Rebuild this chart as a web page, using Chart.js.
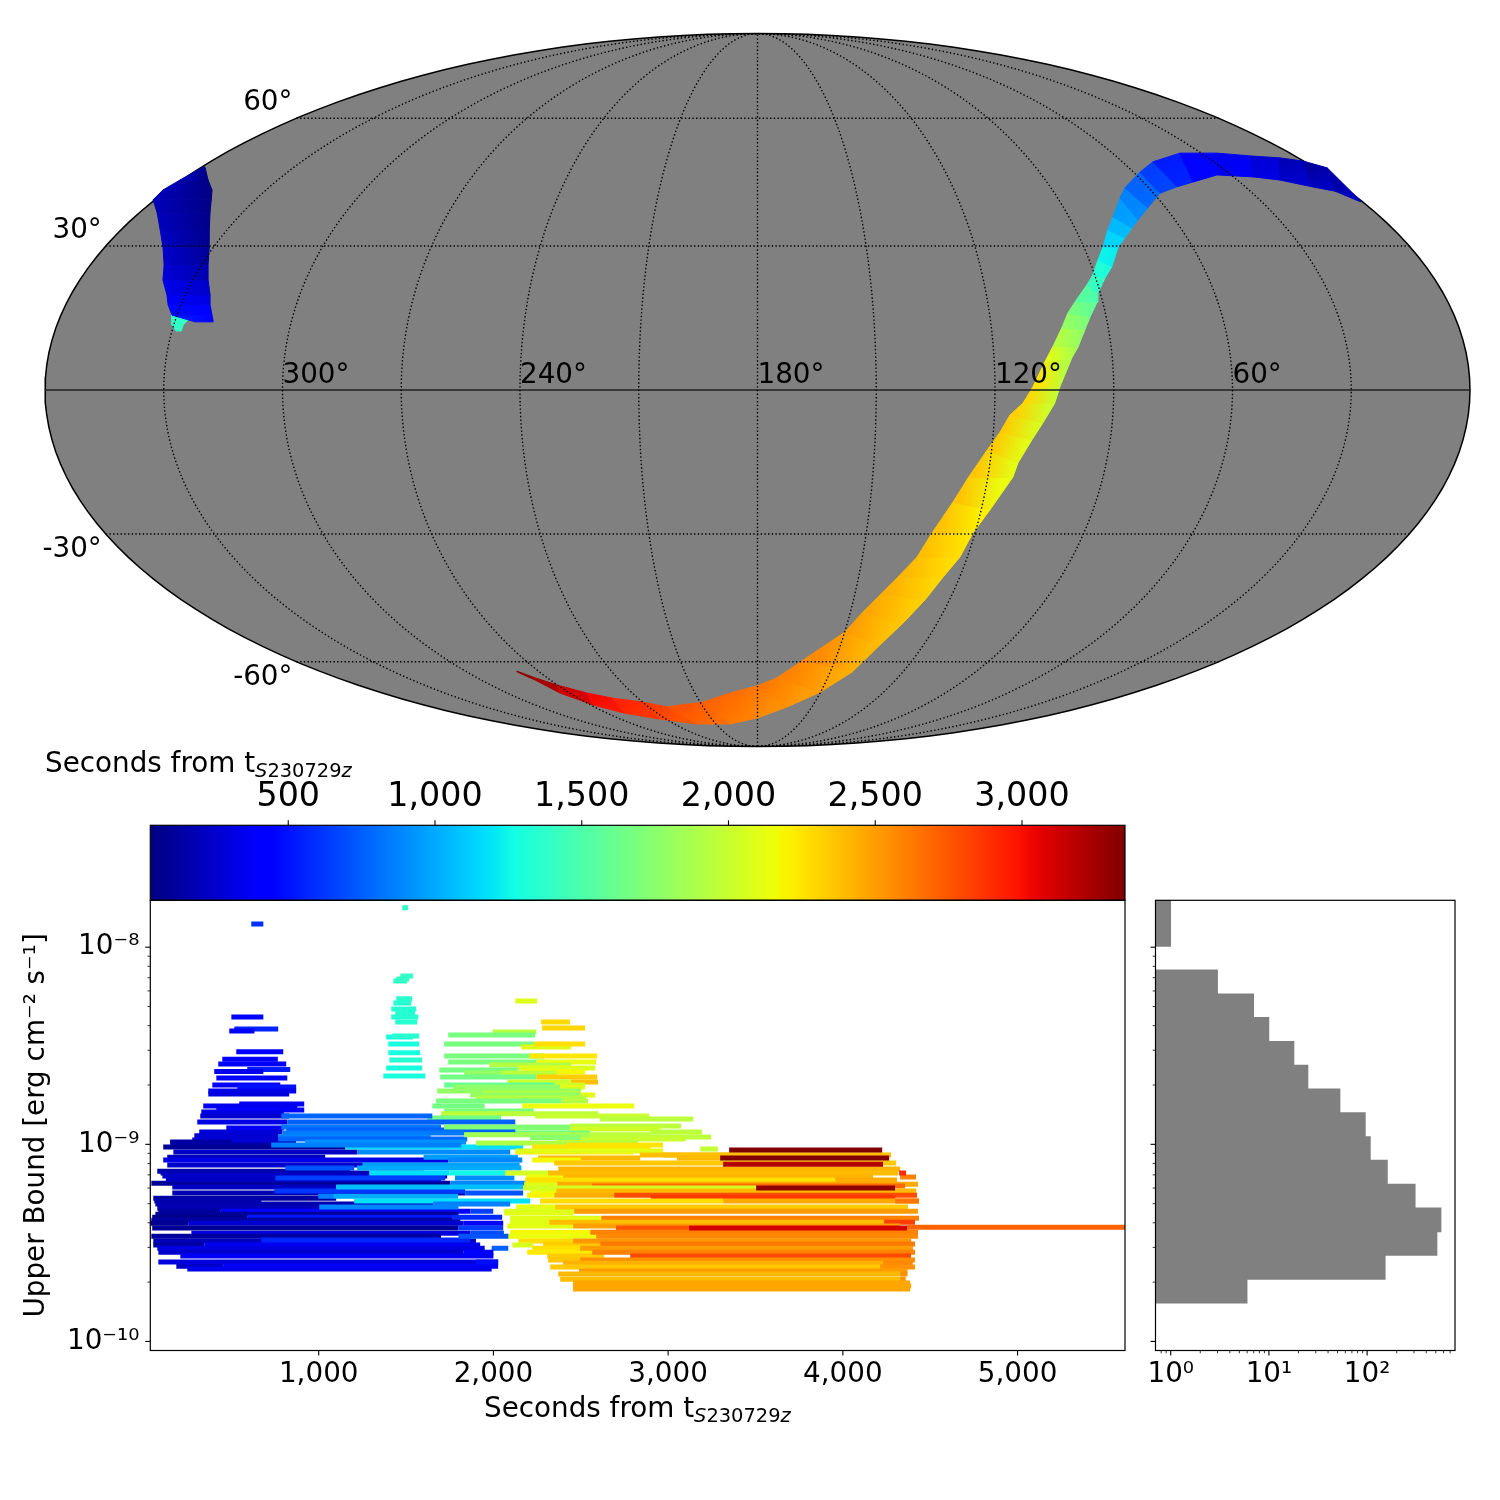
<!DOCTYPE html>
<html>
<head>
<meta charset="utf-8">
<title>S230729z</title>
<script src="https://cdn.jsdelivr.net/npm/chart.js@4"></script>
<style>
    html, body { margin: 0; background: #fff; }
    canvas { position: absolute; left: 0; top: 0; }
</style>
</head>
<body>
<canvas id="map" width="1500" height="1500"></canvas>
<canvas id="colorbar" width="1500" height="1500"></canvas>
<canvas id="bounds" width="1500" height="1500"></canvas>
<canvas id="hist" width="1500" height="1500"></canvas>
<script>
// time range of the colour bar, seconds
let t_min = 30;
let t_max = 3351;
let colorbar_ticks = [500, 1000, 1500, 2000, 2500, 3000];
let seconds_ticks = [1000, 2000, 3000, 4000, 5000];
let ub_decades = [1e-10, 1e-9, 1e-8];
let ub_decade_labels = ['10⁻¹⁰', '10⁻⁹', '10⁻⁸'];
let count_decades = [1, 10, 100];
let count_decade_labels = ['10⁰', '10¹', '10²'];
let lon_labels = [300, 240, 180, 120, 60];
let lat_labels = [60, 30, -30, -60];

// sky band, in the Mollweide plane (degrees), two edges per station
let band_a_x = [152.4,143.9,137.8,132.0,124.4,116.1,106.7,99.9,96.6,92.8,91.6,89.8,88.5,87.3,86.0,84.7,83.2,80.2,78.4,76.9,74.6,72.6,69.6,67.1,63.8,61.3,58.0,53.2,49.4,44.1,40.3,35.5,31.4,26.4,22.1,11.5,4.9,-0.1,-6.9,-13.8,-22.9,-28.9,-36.5,-43.1,-50.6,-56.7,-60.7];
let band_a_y = [47.7,56.1,57.8,58.6,59.1,59.8,59.8,57.6,55.0,51.0,48.5,43.7,40.4,36.1,32.8,29.0,26.5,22.2,19.4,15.7,10.9,7.1,0.8,-3.3,-6.3,-10.6,-15.2,-22.2,-28.3,-36.1,-42.2,-47.2,-51.3,-56.3,-61.1,-68.2,-72.7,-74.7,-76.5,-78.8,-80.0,-78.8,-77.8,-76.5,-74.5,-72.5,-71.0];
let band_b_x = [152.4,145.9,140.1,132.0,125.2,116.1,110.0,106.0,101.7,98.6,96.1,94.6,92.8,91.1,89.5,87.8,86.0,85.8,84.0,82.7,81.0,79.4,76.4,75.1,72.1,69.3,65.8,64.5,58.7,54.4,51.1,46.9,42.3,36.8,30.9,23.9,15.8,7.5,-0.1,-6.9,-15.3,-24.6,-33.5,-41.5,-49.9,-56.2,-60.7];
let band_b_y = [47.5,50.2,51.3,53.0,53.8,54.3,52.5,51.3,49.7,46.0,42.9,40.9,38.4,36.1,31.1,28.3,24.5,22.2,18.4,15.2,10.9,8.1,0.8,-3.3,-8.3,-12.6,-18.4,-22.0,-30.3,-36.1,-42.2,-47.2,-53.0,-58.8,-64.4,-71.2,-76.3,-80.0,-82.8,-84.3,-84.3,-83.1,-81.6,-79.5,-76.5,-73.2,-71.2];
let band_a_t = [200,110,130,240,310,400,470,590,700,830,900,1000,1090,1190,1290,1380,1480,1620,1740,1850,2000,2200,2290,2300,2340,2350,2355,2360,2370,2380,2390,2420,2450,2480,2530,2590,2610,2640,2680,2720,2800,2880,2980,3060,3190,3290,3340];
let band_b_t = [200,230,230,290,340,420,500,620,720,850,930,1020,1100,1180,1260,1340,1440,1540,1650,1740,1830,1900,1950,2000,2040,2080,2110,2100,2170,2230,2260,2280,2310,2340,2380,2420,2480,2520,2570,2640,2700,2820,2920,3030,3170,3290,3340];

// patch near the upper left rim
let patch_a_x = [-140.1,-145.9,-150.2,-152.7,-151.7,-150.9,-150.2,-149.9,-150.2,-149.2,-148.9,-147.9,-142.1];
let patch_a_y = [56.3,53.0,50.5,48.0,44.9,40.4,36.1,31.6,27.8,24.0,21.5,18.9,17.2];
let patch_b_x = [-139.6,-138.8,-137.8,-138.0,-138.3,-138.5,-138.5,-138.8,-138.8,-138.3,-138.3,-137.8,-137.5];
let patch_b_y = [56.3,53.0,50.5,48.0,44.9,40.4,36.1,31.6,27.8,24.0,21.5,18.9,17.2];
let patch_a_t = [170,175,180,190,200,215,230,260,300,360,400,540,500];
let patch_b_t = [40,40,40,50,55,65,80,130,200,290,340,450,450];

let spot_a_x = [-147.9,-147.9,-147.9,-146.9];
let spot_a_y = [19.7,18.2,16.4,14.9];
let spot_b_x = [-147.1,-143.4,-145.1,-145.6];
let spot_b_y = [19.7,18.2,16.4,14.9];
let spot_a_t = [1390,1390,1390,1390];
let spot_b_t = [1390,1390,1390,1390];

// upper bound rows: log10(bound), first second, last second, time that sets the colour
let base_log = [-8.992,-9.014,-9.039,-9.065,-9.080,-9.105,-9.136,-9.145,-9.161,-9.197,
    -9.180,-9.217,-9.247,-9.273,-9.288,-9.303,-9.324,-9.339,-9.339,-9.355,
    -9.370,-9.370,-9.385,-9.400,-9.400,-9.425,-9.451,-9.466,-9.491,-9.511,
    -9.511,-9.527,-9.547,-9.567,-9.597,-9.618,-9.618,-9.633,-9.120,-9.171,
    -9.237,-9.486];
let base_start = [150,110,168,133,110,133,76,95,105,42,
    125,162,162,53,59,65,76,82,437,65,
    47,591,42,36,253,47,271,42,53,53,
    345,76,82,208,82,185,453,248,808,752,
    746,671];
let base_end = [870,1152,1220,1037,1741,1741,1180,1600,1735,1753,
    1700,1100,1838,1100,671,1655,1760,437,1867,1800,
    591,1764,1810,253,1827,1798,1867,1700,1900,345,
    1924,1950,1827,2000,2027,453,2027,1990,1203,1724,
    1838,1867];
let base_time = [150,90,230,200,330,250,150,180,240,90,
    220,220,170,130,170,170,180,130,430,100,
    70,520,130,90,260,90,300,120,200,130,
    360,310,250,370,300,240,395,340,720,650,
    620,560];

let cyan_log = [-9.014,-9.039,-9.065,-9.080,-9.105,-9.120,-9.146,-9.146,-9.171,-9.197,
    -9.217,-9.247,-9.263,-9.263,-9.288,-9.303,-9.339,-9.370,-9.400,-9.425,
    -9.451,-9.466,-9.527,-9.547,-9.597,-9.318];
let cyan_start = [1152,1220,1600,1741,1250,1220,1289,1747,1780,1753,
    1100,1838,997,1083,1203,1655,1867,1764,1827,1798,
    1867,1800,1990,1827,1900,1003];
let cyan_end = [2170,2096,2140,2165,2150,2160,1747,2079,2120,2182,
    2170,2170,1083,1798,2210,2096,1999,2050,2056,2056,
    2060,2090,2085,2000,2027,1800];
let cyan_time = [1172,900,960,880,960,1000,1170,1260,900,880,
    1068,720,860,1000,1180,860,650,580,430,640,
    700,720,760,400,480,880];

let peak_log = [-7.882,-8.354,-8.415,-8.425,-8.530,-8.569,-8.593,-8.620,-8.630,-8.664,
    -8.699,-8.709,-8.729,-8.745,-8.795,-8.806,-8.826,-8.836,-8.856,-8.887,
    -8.917,-8.937,-8.957,-8.978,-8.988];
let peak_start = [614,500,517,488,528,448,425,591,402,414,
    391,534,368,368,545,339,414,328,322,305,
    471,316,288,276,150];
let peak_end = [683,683,768,632,797,766,814,837,683,820,
    780,871,871,831,917,877,917,800,831,820,
    800,790,770,800,500];
let peak_time = [600,450,560,420,420,420,380,540,350,410,
    380,500,350,300,370,340,395,330,260,320,
    380,290,260,270,130];

let teal_log = [-7.800,-8.146,-8.161,-8.171,-8.262,-8.283,-8.313,-8.334,-8.354,-8.379,
    -8.455,-8.450,-8.491,-8.536,-8.572,-8.613,-8.653];
let teal_start = [1478,1467,1444,1427,1444,1427,1415,1438,1415,1438,
    1386,1421,1398,1398,1404,1386,1370];
let teal_end = [1512,1540,1518,1506,1535,1530,1558,1552,1570,1564,
    1540,1575,1575,1581,1592,1592,1610];
let teal_time = [1390,1390,1390,1390,1360,1340,1340,1340,1340,1340,
    1290,1340,1290,1290,1340,1290,1290];

let green_log = [-8.273,-8.379,-8.410,-8.430,-8.445,-8.491,-8.506,-8.491,-8.552,-8.582,
    -8.552,-8.582,-8.597,-8.613,-8.623,-8.633,-8.638,-8.638,-8.658,-8.658,
    -8.684,-8.684,-8.699,-8.699,-8.709,-8.709,-8.729,-8.739,-8.750,-8.750,
    -8.765,-8.780,-8.780,-8.806,-8.806,-8.831,-8.845,-8.856,-8.872,-8.866,
    -8.907,-8.917,-8.922,-8.937,-8.942,-8.952,-8.963,-8.973,-8.993,-9.003,
    -9.024];
let green_start = [2125,2273,2279,1995,1741,1718,2159,2233,1718,1741,
    2205,2245,1976,2142,1690,2182,1833,2044,1695,2245,
    2079,2445,1718,2348,1770,2382,1678,1936,1867,2500,
    1900,1672,2388,1650,2165,1718,1700,2239,2611,1620,
    2439,1718,2439,2897,1833,2554,2870,2365,1900,2422,
    3183];
let green_end = [2250,2439,2525,2245,2239,2233,2445,2525,2290,2296,
    2594,2588,2445,2582,2142,2525,2044,2365,2245,2594,
    2445,2599,2348,2525,2382,2525,2500,2500,2500,2582,
    2531,2388,2542,1950,2806,2230,2600,2891,3143,2044,
    3074,2439,2954,3194,2554,2897,3246,3100,2828,2971,
    3286];
let green_time = [2090,2290,2300,1930,1680,1680,2100,2270,1680,1680,
    2240,2130,1920,2080,1660,2180,1790,1950,1650,2330,
    2000,2380,1600,2030,1760,2090,1780,1900,1790,2120,
    1920,1680,1920,1660,2150,1680,1950,2000,1950,1650,
    1950,1720,2030,1950,1680,1950,1950,2000,1900,2250,
    1980];

let band_log = [-8.856,-8.887,-8.912,-8.927,-8.942,-8.963,-8.973,-8.988,-9.003,-8.912,-8.952,-8.966];
let band_start = [786,820,786,814,791,768,768,923,728,1718,1833,2210];
let band_end = [1650,2125,1700,2125,1833,1640,1850,1844,1816,2439,2554,2500];
let band_time = [770,760,830,760,840,880,770,920,860,1720,1850,1750];

let edge_log = [-9.014,-9.039,-9.070,-9.080,-9.146,-9.166,-9.202,-9.237,-9.258,-9.318,
    -9.339,-9.349,-9.395,-9.415,-9.446,-9.466,-9.491,-9.506,-9.511,-9.527,
    -9.547,-9.567,-9.587,-9.034];
let edge_start = [2222,2125,2256,2222,2067,2188,2176,2210,2193,2130,
    2062,2062,2096,2079,2096,2085,2142,2285,2108,2222,
    2193,2308,2313,2125];
let edge_end = [2900,2800,2840,2500,2325,2399,2365,2365,2348,2353,
    2462,2460,2319,2456,2554,2588,2456,2611,2228,2496,
    2565,2634,2496,2971];
let edge_time = [2250,2230,2400,2180,2040,2150,2100,2150,2190,2120,
    2060,2100,2090,2110,2180,2140,2270,2330,2060,2260,
    2230,2340,2360,2100];

let late_log = [-9.054,-9.095,-9.125,-9.146,-9.166,-9.166,-9.181,-9.181,-9.202,-9.212,
    -9.222,-9.237,-9.258,-9.258,-9.268,-9.288,-9.288,-9.288,-9.318,-9.339,
    -9.375,-9.375,-9.395,-9.395,-9.415,-9.425,-9.421,-9.446,-9.466,-9.491,
    -9.506,-9.527,-9.547,-9.567,-9.587,-9.603,-9.603,-9.623,-9.623,-9.643,
    -9.658,-9.658,-9.684,-9.684,-9.704,-9.719,-9.734,-9.054,-9.070,-9.146];
let late_start = [2971,2348,2371,2313,2399,4328,2182,3956,2365,2565,
    2170,2360,2348,2691,2900,2267,3315,4300,2353,2462,
    2096,2617,2319,4236,2456,2702,4368,2554,2588,2456,
    2611,2496,2565,2783,2496,2399,4230,2325,4213,2490,
    2371,4328,2382,4328,2456,2456,2456,2838,3050,4322];
let late_end = [4276,4305,4328,4316,4173,4419,3956,4310,4430,4356,
    3504,4420,2691,4425,4300,3315,4436,4436,4373,4430,
    2617,4436,4236,4413,4328,3120,5700,4430,4430,4391,
    4413,4402,4413,4390,4413,4230,4400,4213,4413,4370,
    4328,4370,4328,4360,4385,4391,4385,4230,4265,4362];
let late_time = [2370,2350,2420,2390,2420,2600,2260,2450,2450,2680,
    2050,2400,2440,2780,2850,2270,2460,2640,2340,2510,
    2100,2600,2380,2830,2490,2760,2700,2600,2570,2520,
    2630,2500,2600,2800,2550,2430,2570,2350,2540,2500,
    2400,2550,2390,2530,2470,2470,2470,2380,2400,2900];

let red_log = [-9.029,-9.070,-9.222,-9.425,-9.101];
let red_start = [3349,3298,3504,3120,3315];
let red_end = [4225,4265,4299,4368,4230];
let red_time = [3351,3340,3300,3110,3200];

let bar_groups = [
    [base_log, base_start, base_end, base_time],
    [cyan_log, cyan_start, cyan_end, cyan_time],
    [peak_log, peak_start, peak_end, peak_time],
    [teal_log, teal_start, teal_end, teal_time],
    [green_log, green_start, green_end, green_time],
    [band_log, band_start, band_end, band_time],
    [edge_log, edge_start, edge_end, edge_time],
    [late_log, late_start, late_end, late_time],
    [red_log, red_start, red_end, red_time],
];

// histogram of the bounds, log10 of the bin centres and counts per bin
let hist_log = [-9.745,-9.624,-9.503,-9.383,-9.262,-9.141,-9.021,-8.900,-8.779,-8.659,-8.538,-8.417,-8.297,-8.176,-7.935,-7.814];
let hist_counts = [6,153,515,566,309,161,108,96,53,25,18,10,7,3,1,1];

// matplotlib jet
let jet_red = [[0,0],[.35,0],[.66,1],[.89,1],[1,.5]];
let jet_green = [[0,0],[.125,0],[.375,1],[.64,1],[.91,0],[1,0]];
let jet_blue = [[0,.5],[.11,1],[.34,1],[.65,0],[1,0]];

function interp(stops, n) {
    for (let i = 1; i < stops.length; i++) {
        if (n <= stops[i][0]) {
            let f = (n - stops[i-1][0]) / (stops[i][0] - stops[i-1][0]);
            return stops[i-1][1] + f * (stops[i][1] - stops[i-1][1]);
        }
    }
    return stops[stops.length-1][1];
}

function jet_color(t) {
    let n = Math.min(1, Math.max(0, (t - t_min) / (t_max - t_min)));
    let c = [jet_red, jet_green, jet_blue].map(s => Math.round(255 * interp(s, n)));
    return `rgb(${c[0]},${c[1]},${c[2]})`;
}

// Mollweide: auxiliary angle for a latitude, then plane coordinates in degrees
function moll_theta(lat) {
    let phi = lat * Math.PI / 180;
    let th = phi;
    for (let i = 0; i < 60; i++) {
        th -= (2 * th + Math.sin(2 * th) - Math.PI * Math.sin(phi)) / (2 + 2 * Math.cos(2 * th));
    }
    return th;
}

function moll_point(lon, lat) {
    let th = Math.abs(lat) >= 90 ? Math.sign(lat) * Math.PI / 2 : moll_theta(lat);
    return { x: (180 - lon) * Math.cos(th), y: 90 * Math.sin(th) };
}

function range(a, b, step) {
    let out = [];
    for (let v = a; v <= b + 1e-9; v += step) out.push(v);
    return out;
}

function quad_dataset(ax, ay, bx, by, ta, tb, i) {
    let m = i + 1;
    return {
        data: [
            {x: ax[i], y: ay[i]}, {x: ax[m], y: ay[m]},
            {x: bx[m], y: by[m]}, {x: bx[i], y: by[i]}, {x: ax[i], y: ay[i]},
        ],
        fill: 'shape',
        pointRadius: 0,
        borderWidth: 1,
        order: 2,
        borderColor: ctx => quad_gradient(ctx, ax, ay, bx, by, ta, tb, i),
        backgroundColor: ctx => quad_gradient(ctx, ax, ay, bx, by, ta, tb, i),
    };
}

function quad_gradient(ctx, ax, ay, bx, by, ta, tb, i) {
    let m = i + 1;
    if (!ctx.chart.chartArea) return jet_color(ta[i]);
    let xs = ctx.chart.scales.x;
    let ys = ctx.chart.scales.y;
    let g = ctx.chart.ctx.createLinearGradient(
        xs.getPixelForValue((ax[i] + ax[m]) / 2), ys.getPixelForValue((ay[i] + ay[m]) / 2),
        xs.getPixelForValue((bx[i] + bx[m]) / 2), ys.getPixelForValue((by[i] + by[m]) / 2));
    g.addColorStop(0, jet_color((ta[i] + ta[m]) / 2));
    g.addColorStop(1, jet_color((tb[i] + tb[m]) / 2));
    return g;
}

function seconds_title(ctx, x, y, size) {
    ctx.save();
    ctx.fillStyle = '#000';
    ctx.textAlign = 'left';
    ctx.textBaseline = 'alphabetic';
    ctx.font = `${size}px "DejaVu Sans"`;
    ctx.fillText('Seconds from t', x, y);
    x += ctx.measureText('Seconds from t').width;
    let sub = size * 0.7;
    let parts = [['S', 'italic '], ['230729', ''], ['z', 'italic ']];
    for (let p of parts) {
        ctx.font = `${p[1]}${sub}px "DejaVu Sans"`;
        ctx.fillText(p[0], x, y + 5);
        x += ctx.measureText(p[0]).width;
    }
    ctx.restore();
}

// spines and tick marks, majors longer than minors like the original axes
let frame_plugin = {
    id: 'frame',
    afterDraw(chart) {
        let ctx = chart.ctx;
        let a = chart.chartArea;
        ctx.save();
        ctx.strokeStyle = '#000';
        ctx.lineWidth = 1.2;
        ctx.strokeRect(a.left, a.top, a.right - a.left, a.bottom - a.top);
        for (let id of ['x', 'y']) {
            let s = chart.scales[id];
            if (!s.options.display) continue;
            for (let tick of s.ticks) {
                let p = s.getPixelForValue(tick.value);
                let lg = Math.log10(tick.value);
                let major = s.type !== 'logarithmic' || Math.abs(lg - Math.round(lg)) < 1e-6;
                let len = major ? 5 : 2.8;
                ctx.lineWidth = major ? 1.1 : 0.8;
                ctx.beginPath();
                if (s.position === 'left') { ctx.moveTo(a.left, p); ctx.lineTo(a.left - len, p); }
                if (s.position === 'bottom') { ctx.moveTo(p, a.bottom); ctx.lineTo(p, a.bottom + len); }
                if (s.position === 'top') { ctx.moveTo(p, a.top); ctx.lineTo(p, a.top - len); }
                ctx.stroke();
            }
        }
        ctx.restore();
    },
};

let map_labels_plugin = {
    id: 'map_labels',
    afterDraw(chart) {
        let ctx = chart.ctx;
        let xs = chart.scales.x;
        let ys = chart.scales.y;
        ctx.save();
        ctx.fillStyle = '#000';
        ctx.font = '27.8px "DejaVu Sans"';
        ctx.textBaseline = 'alphabetic';
        ctx.textAlign = 'left';
        for (let lon of lon_labels) {
            let p = moll_point(lon, 0);
            ctx.fillText(lon + '°', xs.getPixelForValue(p.x), ys.getPixelForValue(p.y) - 7);
        }
        ctx.textAlign = 'right';
        for (let lat of lat_labels) {
            let p = moll_point(360, lat);
            let dy = lat > 0 ? -8 : 23;
            ctx.fillText(lat + '°', xs.getPixelForValue(p.x) - 4, ys.getPixelForValue(p.y) + dy);
        }
        ctx.restore();
        seconds_title(ctx, 45, 772, 27.8);
    },
};

// map
let map_sets = [];
let rim = range(0, 360, 2).map(a => ({
    x: 180 * Math.cos(a * Math.PI / 180), y: 90 * Math.sin(a * Math.PI / 180),
}));
map_sets.push({
    data: rim, fill: 'shape', backgroundColor: '#808080', borderColor: '#000',
    borderWidth: 1.5, pointRadius: 0, order: 3, clip: false,
});
for (let i = 0; i < band_a_x.length - 1; i++) {
    map_sets.push(quad_dataset(band_a_x, band_a_y, band_b_x, band_b_y, band_a_t, band_b_t, i));
}
for (let i = 0; i < patch_a_x.length - 1; i++) {
    map_sets.push(quad_dataset(patch_a_x, patch_a_y, patch_b_x, patch_b_y, patch_a_t, patch_b_t, i));
}
for (let i = 0; i < spot_a_x.length - 1; i++) {
    map_sets.push(quad_dataset(spot_a_x, spot_a_y, spot_b_x, spot_b_y, spot_a_t, spot_b_t, i));
}
for (let lon of range(30, 330, 30)) {
    map_sets.push({
        data: range(-90, 90, 1).map(lat => moll_point(lon, lat)),
        borderColor: '#000', borderWidth: 1.4, borderDash: [1.4, 2.3], pointRadius: 0, fill: false, order: 1,
    });
}
for (let lat of [-60, -30, 30, 60]) {
    map_sets.push({
        data: [moll_point(360, lat), moll_point(0, lat)],
        borderColor: '#000', borderWidth: 1.4, borderDash: [1.4, 2.3], pointRadius: 0, fill: false, order: 1,
    });
}
map_sets.push({
    data: [moll_point(360, 0), moll_point(0, 0)],
    borderColor: '#222', borderWidth: 1.4, pointRadius: 0, fill: false, order: 1,
});

let base_options = {
    responsive: false,
    animation: false,
    events: [],
    devicePixelRatio: 1,
    plugins: { legend: { display: false }, tooltip: { enabled: false } },
};

new Chart(document.getElementById('map'), {
    type: 'line',
    data: { datasets: map_sets },
    options: {
        ...base_options,
        layout: { padding: { left: 45, right: 30, top: 33.5, bottom: 753.5 } },
        scales: {
            x: { type: 'linear', min: -180, max: 180, display: false },
            y: { type: 'linear', min: -90, max: 90, display: false },
        },
    },
    plugins: [map_labels_plugin],
});

// colour bar
new Chart(document.getElementById('colorbar'), {
    type: 'line',
    data: {
        datasets: [{
            data: [{x: t_min, y: 0}, {x: t_max, y: 0}, {x: t_max, y: 1}, {x: t_min, y: 1}, {x: t_min, y: 0}],
            fill: 'shape',
            pointRadius: 0,
            borderWidth: 0,
            backgroundColor: ctx => {
                if (!ctx.chart.chartArea) return jet_color(t_min);
                let xs = ctx.chart.scales.x;
                let g = ctx.chart.ctx.createLinearGradient(xs.getPixelForValue(t_min), 0, xs.getPixelForValue(t_max), 0);
                for (let i = 0; i <= 128; i++) {
                    g.addColorStop(i / 128, jet_color(t_min + (t_max - t_min) * i / 128));
                }
                return g;
            },
        }],
    },
    options: {
        ...base_options,
        layout: { padding: { left: 150.3, right: 375, top: 0, bottom: 599.7 } },
        scales: {
            x: {
                type: 'linear', position: 'top', min: t_min, max: t_max,
                afterBuildTicks: s => { s.ticks = colorbar_ticks.map(v => ({value: v})); },
                afterFit: s => { s.height = 825.3; },
                grid: { display: false, drawTicks: false },
                border: { display: false },
                ticks: { color: '#000', font: { family: 'DejaVu Sans', size: 33.3 }, padding: 8, maxRotation: 0, autoSkip: false },
            },
            y: { type: 'linear', min: 0, max: 1, display: false },
        },
    },
    plugins: [frame_plugin],
});

// upper bound rows
let bar_sets = [];
for (let group of bar_groups) {
    let [logs, starts, ends, times] = group;
    logs.forEach((u, i) => {
        bar_sets.push({
            data: [{x: starts[i], y: Math.pow(10, u)}, {x: ends[i], y: Math.pow(10, u)}],
            borderColor: jet_color(times[i]),
            borderWidth: 5,
            borderCapStyle: 'butt',
            pointRadius: 0,
            fill: false,
            order: -bar_sets.length,
        });
    });
}

let ub_ticks = [];
for (let dec of [1e-10, 1e-9, 1e-8]) {
    ub_ticks.push(dec);
    for (let m = 2; m <= 9; m++) {
        if (m * dec < 1.73e-8) ub_ticks.push(m * dec);
    }
}

function ub_scale(show_labels) {
    return {
        type: 'logarithmic',
        min: Math.pow(10, -10.046),
        max: Math.pow(10, -7.762),
        afterBuildTicks: s => { s.ticks = ub_ticks.map(v => ({value: v})); },
        grid: { display: false, drawTicks: false },
        border: { display: false },
        ticks: {
            display: show_labels,
            color: '#000',
            font: { family: 'DejaVu Sans', size: 27.8 },
            padding: 11,
            autoSkip: false,
            maxRotation: 0,
            callback: v => {
                let i = ub_decades.indexOf(v);
                return i < 0 ? '' : ub_decade_labels[i];
            },
        },
    };
}

new Chart(document.getElementById('bounds'), {
    type: 'line',
    data: { datasets: bar_sets },
    options: {
        ...base_options,
        layout: { padding: { left: 0, right: 375, top: 900.3, bottom: 0 } },
        scales: {
            x: {
                type: 'linear', min: 36, max: 5615,
                afterBuildTicks: s => { s.ticks = seconds_ticks.map(v => ({value: v})); },
                afterFit: s => { s.height = 149.5; },
                grid: { display: false, drawTicks: false },
                border: { display: false },
                ticks: { color: '#000', font: { family: 'DejaVu Sans', size: 27.8 }, padding: 8, maxRotation: 0, autoSkip: false },
            },
            y: {
                ...ub_scale(true),
                afterFit: s => { s.width = 150.3; },
                title: {
                    display: true,
                    text: 'Upper Bound [erg cm⁻² s⁻¹]',
                    color: '#000',
                    font: { family: 'DejaVu Sans', size: 27.8 },
                    padding: { top: 20, bottom: 0 },
                },
            },
        },
    },
    plugins: [frame_plugin, {
        id: 'x_title',
        afterDraw(chart) { seconds_title(chart.ctx, 484, 1417, 27.8); },
    }],
});

// histogram
let count_ticks = [0.8, 0.9];
for (let dec of [1, 10, 100]) {
    count_ticks.push(dec);
    for (let m = 2; m <= 9; m++) {
        if (m * dec < 785) count_ticks.push(m * dec);
    }
}

new Chart(document.getElementById('hist'), {
    type: 'bar',
    data: {
        datasets: [{
            data: hist_log.map((u, i) => ({x: hist_counts[i], y: Math.pow(10, u)})),
            backgroundColor: '#808080',
            barThickness: 24,
            borderWidth: 0,
        }],
    },
    options: {
        ...base_options,
        indexAxis: 'y',
        layout: { padding: { left: 0, right: 45, top: 900.3, bottom: 0 } },
        scales: {
            x: {
                type: 'logarithmic', min: 0.726, max: 785,
                afterBuildTicks: s => { s.ticks = count_ticks.map(v => ({value: v})); },
                afterFit: s => { s.height = 149.5; },
                grid: { display: false, drawTicks: false },
                border: { display: false },
                ticks: {
                    color: '#000',
                    font: { family: 'DejaVu Sans', size: 27.8 },
                    padding: 8,
                    autoSkip: false,
                    maxRotation: 0,
                    callback: v => {
                        let i = count_decades.indexOf(v);
                        return i < 0 ? '' : count_decade_labels[i];
                    },
                },
            },
            y: { ...ub_scale(false), afterFit: s => { s.width = 1155.5; } },
        },
    },
    plugins: [frame_plugin],
});
</script>
</body>
</html>
